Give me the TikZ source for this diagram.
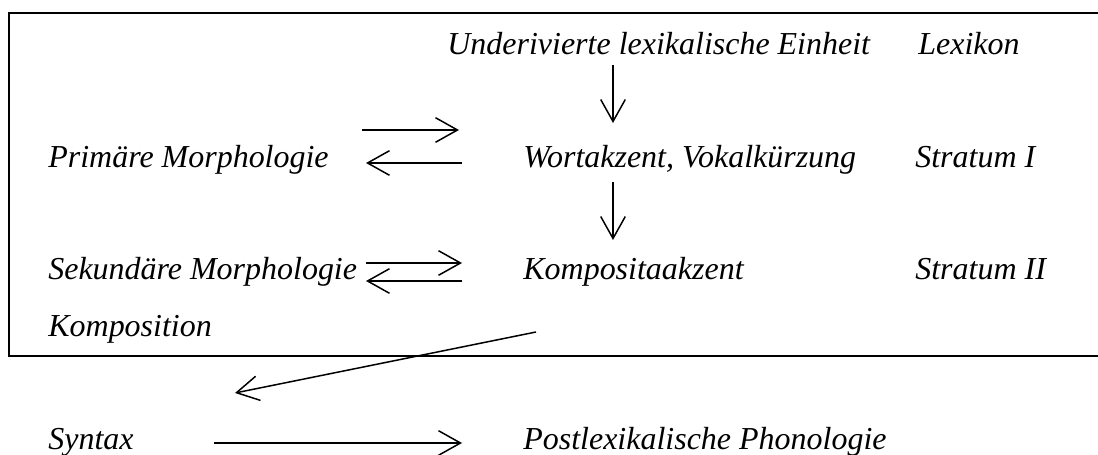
\documentclass[tikz,border=0pt]{standalone}
\usepackage{fontspec}
\setmainfont{Liberation Serif}
\usetikzlibrary{arrows.meta,calc}

\begin{document}
\begin{tikzpicture}[x=0.02cm,y=-0.02cm]
  \tikzstyle{ebene}=[inner sep=0pt,anchor=base west,font=\fontsize{18.2}{22}\selectfont\itshape]
  \tikzstyle{pfeil}=[draw,line width=0.85pt,-{Straight Barb[length=12.5pt,width=14pt,line width=0.85pt]}]
  \tikzstyle{rahmen}=[draw,line width=1.2pt]
  \useasboundingbox (0,0) rectangle (1098,455);

  % box
  \draw[rahmen] (9,13) rectangle (1110,356);

  \node[ebene] (uei)  at (447,55)  {Underivierte lexikalische Einheit};
  \node[ebene] (lex)  at (918,55)  {Lexikon};
  \node[ebene] (pm)   at (48,168)  {Primäre Morphologie};
  \node[ebene] (wv)   at (523,168) {Wortakzent, Vokalkürzung};
  \node[ebene] (s1)   at (915,168) {Stratum I};
  \node[ebene] (sm)   at (48,280)  {Sekundäre Morphologie};
  \node[ebene] (ka)   at (523,280) {Kompositaakzent};
  \node[ebene] (s2)   at (915,280) {Stratum II};
  \node[ebene] (komp) at (48,337)  {Komposition};
  \node[ebene] (syn)  at (48,450)  {Syntax};
  \node[ebene] (pp)   at (523,450) {Postlexikalische Phonologie};

  % arrows
  \draw[pfeil] ($(uei.base west)+(166,10)$) -- ($(wv.base west)+(90,-45)$);
  \draw[pfeil] ($(wv.base west)+(90,14)$) -- ($(ka.base west)+(90,-40)$);
  \draw[pfeil] ($(pm.base west)+(314,-38)$) -- ($(wv.base west)+(-64,-38)$);
  \draw[pfeil] ($(wv.base west)+(-61,-5)$) -- ($(pm.base west)+(318,-5)$);
  \draw[pfeil] ($(sm.base west)+(318,-17)$) -- ($(ka.base west)+(-61,-17)$);
  \draw[pfeil] ($(ka.base west)+(-61,1)$) -- ($(sm.base west)+(318,1)$);
  \draw[pfeil] ($(ka.base west)+(13,52)$) -- ($(syn.base west)+(187,-57)$);
  \draw[pfeil] ($(syn.base west)+(166,-7)$) -- ($(pp.base west)+(-61,-7)$);

\end{tikzpicture}
\end{document}
